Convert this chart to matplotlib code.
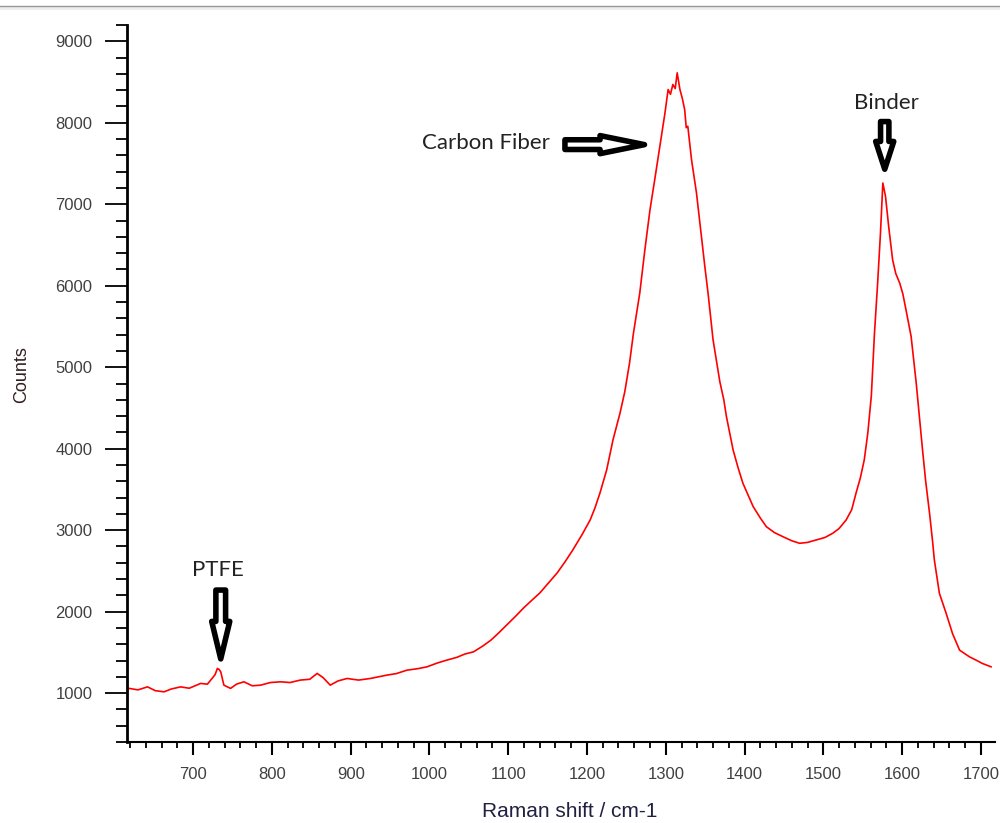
import matplotlib.pyplot as plt
from matplotlib.patches import FancyArrowPatch, Rectangle
from matplotlib.lines import Line2D
from matplotlib.ticker import MultipleLocator

# Raman spectrum (shift in cm-1, counts)
shift = [618.7, 630, 642, 652, 663, 672, 684, 695, 709.5, 718, 724, 728, 730.7,
         733, 735, 739, 747.5, 755, 764.4, 775, 785.6, 798, 811, 823, 836, 848,
         857.4, 865, 874, 884, 895.5, 910, 925, 935, 946, 958, 971.5, 985, 997,
         1010, 1022, 1035, 1045, 1056, 1068, 1078, 1088, 1098, 1110, 1120, 1130,
         1140, 1150, 1162, 1172, 1182, 1194, 1204, 1210, 1216.5, 1225, 1233,
         1242, 1248, 1254, 1259, 1267, 1273.5, 1280, 1286, 1292.5, 1299, 1303,
         1306, 1309, 1312, 1314.5, 1318, 1321, 1324, 1326, 1328, 1332.7, 1339,
         1343, 1349.6, 1353.8, 1360, 1368.6, 1373.7, 1377, 1385.5, 1392, 1398,
         1405, 1411, 1420, 1427.7, 1438, 1448.8, 1460, 1470, 1480, 1491, 1502,
         1512, 1520, 1529, 1536, 1542, 1547, 1552, 1556.5, 1561, 1565, 1569,
         1572.6, 1575.6, 1579, 1583, 1588, 1592, 1597, 1601, 1605, 1611.5, 1618,
         1622, 1626, 1630, 1635, 1639, 1641, 1647.4, 1656, 1664, 1673, 1685.5,
         1695, 1702, 1713]
counts = [1058, 1040, 1077, 1030, 1016, 1050, 1077, 1060, 1119, 1110, 1180, 1230,
          1303, 1290, 1262, 1098, 1058, 1110, 1139, 1090, 1098, 1130, 1139, 1130,
          1160, 1170, 1242, 1190, 1098, 1150, 1180, 1160, 1180, 1200, 1221, 1240,
          1282, 1300, 1323, 1370, 1405, 1440, 1480, 1507, 1580, 1650, 1740, 1835,
          1950, 2050, 2140, 2228, 2340, 2474, 2610, 2757, 2950, 3125, 3270, 3457,
          3740, 4108, 4440, 4700, 5050, 5419, 5910, 6442, 6934, 7302, 7711, 8121,
          8408, 8350, 8470, 8420, 8613, 8408, 8300, 8162, 7940, 7957, 7548, 7139,
          6800, 6237, 5900, 5340, 4825, 4600, 4395, 3985, 3760, 3575, 3420, 3289,
          3150, 3043, 2970, 2920, 2870, 2839, 2850, 2880, 2910, 2962, 3020, 3125,
          3250, 3470, 3640, 3862, 4190, 4650, 5419, 6033, 6647, 7261, 7097, 6728,
          6319, 6150, 6033, 5900, 5705, 5378, 4804, 4395, 3985, 3600, 3200, 2839,
          2634, 2225, 1979, 1733, 1528, 1446, 1400, 1364, 1323]

# peak labels: text, text position, arrow tail, arrow head
labels = ['PTFE', 'Carbon Fiber', 'Binder']
label_xy = [(731, 2511), (1153, 7757), (1580, 8248)]
arrow_from = [(735, 2265), (1172, 7732), (1578, 8015)]
arrow_to = [(735, 1420), (1273, 7732), (1578, 7430)]

fig = plt.figure(figsize=(10, 8.23), dpi=100)
ax = fig.add_axes([0.127, 0.0984, 0.868, 0.8712])

ax.plot(shift, counts, color='#ff0000', lw=1.2)

ax.set_xlim(616, 1718)
ax.set_ylim(400, 9200)
ax.xaxis.set_major_locator(MultipleLocator(100))
ax.xaxis.set_minor_locator(MultipleLocator(20))
ax.yaxis.set_major_locator(MultipleLocator(1000))
ax.yaxis.set_minor_locator(MultipleLocator(200))

for s in ['top', 'right']:
    ax.spines[s].set_visible(False)
ax.spines['left'].set_linewidth(2)
ax.spines['bottom'].set_linewidth(1.5)

ax.tick_params(axis='y', which='major', length=16, width=1.3, pad=9,
               labelsize=12, labelcolor='#404040')
ax.tick_params(axis='y', which='minor', length=8, width=1.3)
ax.tick_params(axis='x', which='major', length=9, width=1.5, pad=9,
               labelsize=12, labelcolor='#404040')
ax.tick_params(axis='x', which='minor', length=4.5, width=1.3)
for lab in ax.get_xticklabels() + ax.get_yticklabels():
    lab.set_family('Liberation Sans')

ax.set_xlabel('Raman shift / cm-1', fontsize=15, family='Liberation Sans',
              color='#202040')
ax.xaxis.set_label_coords(0.51, -0.084)
ax.set_ylabel('Counts', fontsize=13, family='Liberation Sans', color='#302020')
ax.yaxis.set_label_coords(-0.112, 0.512)

styles = ['simple,head_length=27,head_width=13,tail_width=7',
          'simple,head_length=32,head_width=13,tail_width=7',
          'simple,head_length=20,head_width=13,tail_width=6']
for i, name in enumerate(labels):
    ha = 'right' if name == 'Carbon Fiber' else 'center'
    ax.text(label_xy[i][0], label_xy[i][1], name, fontsize=16, family='Lato',
            color='#222222', ha=ha, va='center')
    ax.add_patch(FancyArrowPatch(arrow_from[i], arrow_to[i], arrowstyle=styles[i],
                                 mutation_scale=1, fc='white', ec='black', lw=4,
                                 shrinkA=0, shrinkB=0, joinstyle='round',
                                 zorder=5))

# screenshot border at the top
fig.add_artist(Rectangle((0, 1 - 10 / 823), 1, 4 / 823, transform=fig.transFigure,
                         fc='#eeeeee', ec='none'))
fig.add_artist(Line2D([0, 1], [1 - 6 / 823, 1 - 6 / 823], transform=fig.transFigure,
                      color='#999999', lw=1))

fig.savefig('out.png', dpi=100)
